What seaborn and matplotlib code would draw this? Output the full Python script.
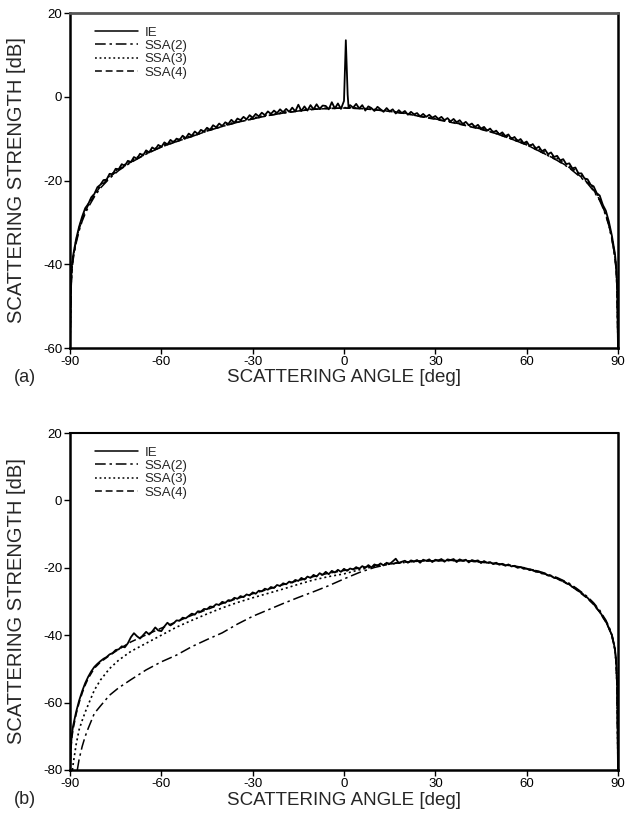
import numpy as np
import pandas as pd
import matplotlib
matplotlib.use("Agg")
import matplotlib.pyplot as plt
import seaborn as sns

# ---------------- panel (a) ----------------
ie_a_deg = ([-90, -89.7, -89.4] + list(range(-89, 0)) +
            [0, 0.3, 0.6, 0.9, 1.2, 1.5] + list(range(2, 90)) + [89.4, 89.7, 90])
ie_a_db = [
    -60.0, -45.0, -40.5,
    # -89 .. -80
    -38.0, -34.0, -31.0, -28.6, -26.6, -25.6, -24.0, -23.2, -21.6, -21.0,
    # -79 .. -70
    -19.9, -19.8, -18.4, -18.5, -17.2, -17.3, -16.1, -16.5, -15.3, -15.6,
    # -69 .. -60
    -14.4, -14.8, -13.6, -14.0, -12.8, -13.3, -12.1, -12.6, -11.5, -12.0,
    # -59 .. -50
    -10.9, -11.4, -10.3, -10.9, -10.0, -10.3, -9.3, -9.9, -8.8, -9.3,
    # -49 .. -40
    -8.3, -8.9, -7.9, -8.3, -7.4, -7.9, -6.8, -7.3, -6.4, -7.0,
    # -39 .. -30
    -6.1, -6.5, -5.5, -6.2, -5.2, -5.6, -4.8, -5.4, -4.4, -5.0,
    # -29 .. -20
    -4.1, -4.7, -3.8, -4.4, -3.5, -4.1, -3.3, -3.9, -3.0, -3.7,
    # -19 .. -10
    -2.9, -3.6, -2.6, -3.5, -1.9, -3.4, -2.3, -3.3, -2.0, -3.0,
    # -9 .. -1
    -1.8, -2.9, -2.1, -2.2, -3.0, -1.3, -2.8, -1.6, -2.9,
    # 0 .. 1.5 (specular peak)
    -1.0, 6.0, 13.5, 7.0, 0.5, -2.6,
    # 2 .. 9
    -2.0, -2.6, -1.7, -2.8, -2.0, -3.3, -2.3, -2.7,
    # 10 .. 19
    -3.4, -2.4, -3.0, -3.6, -2.7, -3.5, -3.0, -4.0, -3.2, -3.9,
    # 20 .. 29
    -3.4, -4.3, -3.6, -4.2, -3.9, -4.7, -4.1, -4.8, -4.3, -5.0,
    # 30 .. 39
    -4.6, -5.3, -4.8, -5.6, -5.1, -5.9, -5.3, -6.1, -5.6, -6.5,
    # 40 .. 49
    -6.0, -6.8, -6.4, -7.2, -6.7, -7.6, -7.2, -8.1, -7.6, -8.5,
    # 50 .. 59
    -8.1, -9.0, -8.5, -9.4, -9.0, -10.1, -9.6, -10.6, -10.1, -11.1,
    # 60 .. 69
    -10.7, -11.8, -11.3, -12.4, -11.9, -13.0, -12.6, -13.7, -13.3, -14.4,
    # 70 .. 79
    -14.1, -15.2, -14.9, -16.1, -15.9, -17.1, -16.9, -18.3, -18.3, -19.5,
    # 80 .. 89
    -19.7, -21.0, -21.4, -23.0, -23.6, -25.8, -27.2, -29.8, -33.2, -37.5,
    -40.5, -45.0, -60.0,
]

ssa_a_deg = [-90, -89.7, -89.4, -89, -88, -87, -86, -85, -84, -82, -80, -77, -74,
             -70, -65, -60, -55, -50, -45, -40, -35, -30, -25, -20, -15, -10, -5,
             0, 5, 10, 15, 20, 25, 30, 35, 40, 45, 50, 55, 60, 65, 70, 74, 77, 80,
             82, 84, 85, 86, 87, 88, 89, 89.4, 89.7, 90]
ssa2_a_db = [-60.0, -47.0, -42.0, -39.0, -35.0, -32.0, -29.7, -27.9, -26.4, -23.9,
             -21.8, -19.5, -17.6, -15.7, -13.7, -12.0, -10.7, -9.5, -8.2, -7.1,
             -6.1, -5.3, -4.5, -3.9, -3.4, -3.0, -2.8, -2.7, -2.8, -3.1, -3.5,
             -4.0, -4.7, -5.3, -6.0, -6.8, -7.7, -8.8, -10.1, -11.5, -13.3, -15.2,
             -17.0, -18.8, -20.7, -22.5, -24.8, -26.5, -28.4, -30.8, -34.0, -38.5,
             -41.5, -46.5, -60.0]
ssa3_a_db = [-60.0, -46.0, -41.0, -38.2, -34.3, -31.3, -29.0, -27.1, -25.6, -23.2,
             -21.1, -18.9, -17.1, -15.3, -13.3, -11.7, -10.4, -9.3, -8.0, -6.9,
             -5.9, -5.1, -4.3, -3.7, -3.3, -2.9, -2.7, -2.6, -2.7, -3.0, -3.4,
             -3.9, -4.6, -5.2, -5.9, -6.6, -7.5, -8.5, -9.8, -11.1, -12.9, -14.7,
             -16.5, -18.2, -20.1, -21.9, -24.2, -25.9, -27.8, -30.3, -33.6, -38.0,
             -41.0, -46.0, -60.0]
ssa4_a_db = [-60.0, -46.2, -41.2, -38.4, -34.6, -31.6, -29.3, -27.4, -25.9, -23.5,
             -21.4, -19.2, -17.4, -15.6, -13.6, -12.0, -10.7, -9.5, -8.2, -7.1,
             -6.1, -5.3, -4.5, -3.9, -3.4, -3.0, -2.8, -2.7, -2.8, -3.1, -3.5,
             -4.0, -4.7, -5.4, -6.1, -6.9, -7.8, -8.8, -10.1, -11.5, -13.3, -15.1,
             -16.9, -18.6, -20.5, -22.3, -24.6, -26.3, -28.2, -30.7, -34.0, -38.3,
             -41.3, -46.2, -60.0]

# ---------------- panel (b) ----------------
ie_b_deg = [-90, -89.7, -89.4] + list(range(-89, 90)) + [89.4, 89.7, 90]
ie_b_db = [
    -80.0, -73.0, -69.5,
    # -89 .. -80
    -67.0, -62.8, -59.4, -56.6, -54.2, -52.3, -50.7, -49.4, -48.5, -47.7,
    # -79 .. -70
    -47.0, -46.5, -45.7, -45.3, -44.4, -44.2, -43.3, -43.6, -42.4, -40.6,
    # -69 .. -60
    -39.4, -40.3, -41.0, -40.0, -39.0, -39.8, -38.9, -37.7, -38.6, -38.8,
    # -59 .. -50
    -37.4, -36.3, -37.1, -36.5, -35.6, -35.7, -34.8, -35.0, -34.3, -33.6,
    # -49 .. -40
    -33.9, -32.9, -33.0, -32.2, -32.3, -31.5, -31.6, -30.8, -31.0, -30.1,
    # -39 .. -30
    -30.4, -29.6, -29.7, -28.9, -29.2, -28.4, -28.7, -27.9, -28.2, -27.3,
    # -29 .. -20
    -27.7, -26.8, -27.0, -26.2, -26.5, -25.7, -26.0, -25.1, -25.4, -24.6,
    # -19 .. -10
    -24.9, -24.1, -24.4, -23.6, -23.9, -23.0, -23.5, -22.6, -23.0, -22.1,
    # -9 .. 0
    -22.6, -21.6, -22.1, -21.2, -21.9, -20.9, -21.4, -20.6, -21.2, -20.3,
    # 1 .. 10
    -20.9, -20.2, -20.5, -19.8, -20.3, -19.5, -20.0, -19.2, -19.9, -19.0,
    # 11 .. 20
    -19.4, -18.7, -19.3, -18.5, -18.9, -18.1, -17.3, -18.6, -18.2, -17.9,
    # 21 .. 30
    -18.5, -17.8, -18.1, -17.7, -18.5, -17.6, -17.9, -17.5, -18.3, -17.6,
    # 31 .. 40
    -17.8, -17.4, -18.2, -17.5, -17.7, -17.4, -18.3, -17.5, -17.9, -17.6,
    # 41 .. 50
    -18.4, -17.7, -18.0, -17.8, -18.6, -18.0, -18.5, -18.3, -18.9, -18.5,
    # 51 .. 60
    -19.1, -18.8, -19.4, -19.0, -19.6, -19.4, -20.0, -19.8, -20.3, -20.2,
    # 61 .. 70
    -20.7, -20.6, -21.2, -21.1, -21.7, -21.7, -22.3, -22.4, -23.0, -23.1,
    # 71 .. 80
    -23.7, -23.9, -24.6, -24.9, -25.7, -26.0, -26.9, -27.4, -28.3, -28.9,
    # 81 .. 89
    -29.9, -30.7, -32.0, -33.0, -34.5, -35.9, -37.8, -40.0, -44.0,
    -48.0, -55.0, -80.0,
]

ssa4_b_deg = [-90, -89.7, -89.4, -89, -88, -87, -86, -85, -84, -82, -80, -77, -74,
              -70, -65, -60, -55, -50, -45, -40, -35, -30, -25, -20, -15, -10, -5,
              0, 5, 10, 15, 20, 25, 30, 35, 40, 45, 50, 55, 60, 65, 70, 74, 77, 80,
              82, 84, 85, 86, 87, 88, 89, 89.4, 89.7, 90]
ssa4_b_db = [-80.0, -74.0, -70.5, -68.0, -63.5, -60.0, -57.2, -54.8, -52.8, -49.8,
             -48.0, -46.0, -44.2, -42.0, -39.9, -37.9, -36.0, -34.1, -32.4, -30.6,
             -29.1, -27.7, -26.4, -25.0, -23.8, -22.6, -21.6, -20.8, -20.1, -19.3,
             -18.7, -18.3, -18.0, -17.9, -17.8, -17.9, -18.3, -18.8, -19.4, -20.3,
             -21.5, -23.2, -25.0, -27.0, -29.1, -30.9, -33.2, -34.7, -36.1, -38.0,
             -40.3, -44.5, -48.5, -56.0, -80.0]

ssa3_b_deg = [-89.2, -89, -88.5, -88, -87, -86, -85, -84, -82, -80, -77, -74, -70,
              -65, -60, -55, -50, -45, -40, -35, -30, -25, -20, -15, -10, -5, 0, 5,
              10, 15, 20, 25, 30, 35, 40, 45, 50, 55, 60, 65, 70, 74, 77, 80, 82, 84,
              85, 86, 87, 88, 89, 89.4, 89.7, 90]
ssa3_b_db = [-80.0, -78.5, -75.5, -72.5, -68.0, -65.3, -62.8, -60.6, -56.3, -53.3,
             -49.9, -47.4, -44.8, -42.4, -40.0, -37.6, -35.6, -33.7, -31.9, -30.3,
             -28.9, -27.6, -26.3, -24.9, -23.6, -22.6, -21.8, -20.6, -19.6, -18.9,
             -18.4, -18.0, -17.9, -17.8, -17.9, -18.3, -18.8, -19.4, -20.3, -21.5,
             -23.1, -24.9, -26.8, -28.9, -30.7, -33.0, -34.5, -35.9, -37.8, -40.1,
             -44.3, -48.3, -56.0, -80.0]

ssa2_b_deg = [-87.6, -87, -86, -85, -84, -82, -80, -77, -74, -70, -65, -60, -55,
              -50, -45, -40, -35, -30, -25, -20, -15, -10, -5, 0, 5, 10, 15, 20, 25,
              30, 35, 40, 45, 50, 55, 60, 65, 70, 74, 77, 80, 82, 84, 85, 86, 87, 88,
              89, 89.4, 89.7, 90]
ssa2_b_db = [-80.0, -76.8, -73.0, -70.0, -67.6, -63.2, -61.0, -57.8, -55.6, -53.2,
             -50.3, -47.9, -45.9, -43.4, -41.3, -39.3, -36.7, -34.4, -32.5, -30.6,
             -28.8, -27.1, -25.3, -23.3, -21.4, -19.9, -18.9, -18.3, -18.0, -17.9,
             -17.8, -17.9, -18.2, -18.7, -19.3, -20.1, -21.3, -22.9, -24.6, -26.5,
             -28.6, -30.4, -32.6, -34.1, -35.5, -37.4, -39.8, -44.0, -48.0, -56.0,
             -80.0]

x_ticks = [-90, -60, -30, 0, 30, 60, 90]

sns.set_style("ticks")
plt.rcParams["font.family"] = ["Liberation Sans", "DejaVu Sans"]

fig = plt.figure(figsize=(6.31, 8.25), dpi=100)
ax_a = fig.add_axes([70 / 631, 1 - 348 / 825, 548 / 631, 335 / 825])
ax_b = fig.add_axes([70 / 631, 1 - 770 / 825, 548 / 631, 337 / 825])

styles = {
    "IE": dict(linestyle="-", linewidth=1.3),
    "SSA(2)": dict(linestyle=(0, (7, 2.5, 1.6, 2.5)), linewidth=1.1),
    "SSA(3)": dict(linestyle=(0, (1.2, 1.8)), linewidth=1.2),
    "SSA(4)": dict(linestyle=(0, (4.5, 2.5)), linewidth=1.1),
}


def draw(ax, series, ylim, yticks, xlabel_y):
    for name, xs, ys in series:
        df = pd.DataFrame({"angle": xs, "db": ys})
        sns.lineplot(data=df, x="angle", y="db", ax=ax, color="black",
                     label=name, sort=False, estimator=None, **styles[name])
    ax.set_xlim(-90, 90)
    ax.set_ylim(*ylim)
    ax.set_xticks(x_ticks)
    ax.set_xticklabels([str(t) for t in x_ticks])
    ax.set_yticks(yticks)
    ax.set_yticklabels([str(t) for t in yticks])
    ax.tick_params(direction="out", length=4, width=1, labelsize=9.5, pad=1.5,
                   colors="black")
    for side in ["left", "bottom", "right"]:
        ax.spines[side].set_linewidth(1.8)
        ax.spines[side].set_color("black")
    ax.spines["top"].set_linewidth(1.5)
    ax.set_xlabel("SCATTERING ANGLE [deg]", fontsize=13.5)
    ax.set_ylabel("SCATTERING STRENGTH [dB]", fontsize=14.5)
    ax.xaxis.set_label_coords(0.5, xlabel_y)
    ax.yaxis.set_label_coords(-0.080, 0.5)
    leg = ax.legend(loc="upper left", bbox_to_anchor=(0.045, 0.96), frameon=False,
                    fontsize=9.5, handlelength=3.3, handletextpad=0.5,
                    labelspacing=0.08, borderaxespad=0.0, borderpad=0.0)
    for line in leg.get_lines():
        line.set_linewidth(1.1)
    ax.grid(False)


draw(ax_a,
     [("IE", ie_a_deg, ie_a_db), ("SSA(2)", ssa_a_deg, ssa2_a_db),
      ("SSA(3)", ssa_a_deg, ssa3_a_db), ("SSA(4)", ssa_a_deg, ssa4_a_db)],
     (-60, 20), [-60, -40, -20, 0, 20], -0.062)
ax_a.spines["top"].set_color("#555555")
ax_a.spines["top"].set_linewidth(2.0)

draw(ax_b,
     [("IE", ie_b_deg, ie_b_db), ("SSA(2)", ssa2_b_deg, ssa2_b_db),
      ("SSA(3)", ssa3_b_deg, ssa3_b_db), ("SSA(4)", ssa4_b_deg, ssa4_b_db)],
     (-80, 20), [-80, -60, -40, -20, 0, 20], -0.064)
ax_b.spines["top"].set_color("black")

fig.text(14 / 631, 1 - 377 / 825, "(a)", fontsize=13, ha="left", va="center")
fig.text(14 / 631, 1 - 800 / 825, "(b)", fontsize=13, ha="left", va="center")

fig.savefig("out.png", dpi=100, facecolor="white")
